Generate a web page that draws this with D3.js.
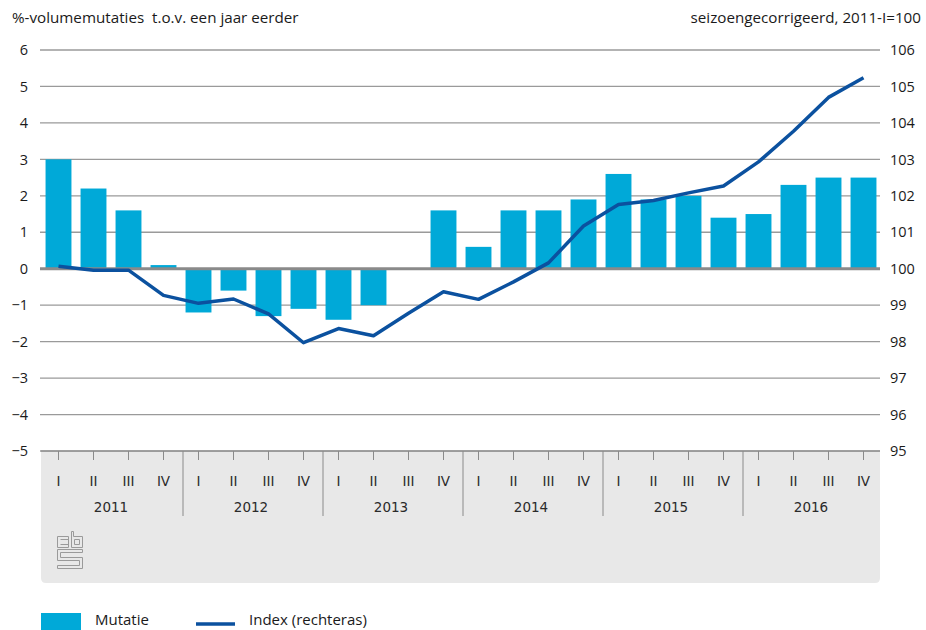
<!DOCTYPE html>
<html>
<head>
<meta charset="utf-8">
<script src="https://cdn.jsdelivr.net/npm/d3@7"></script>
<style>
  body { margin: 0; background: #fff; }
  svg text { font-family: "Open Sans", "Noto Sans", sans-serif; fill: #1a1a1a; }
  svg text.ax { font-family: "DejaVu Sans", sans-serif; fill: #2a2a2a; }
</style>
</head>
<body>
<div id="chart"></div>
<script>
var width = 926, height = 630;
var years = ["2011", "2012", "2013", "2014", "2015", "2016"];
var quarters = ["I", "II", "III", "IV"];
var mutatie = [3.0, 2.2, 1.6, 0.1, -1.2, -0.6, -1.3, -1.1, -1.4, -1.0, 0, 1.6,
               0.6, 1.6, 1.6, 1.9, 2.6, 1.9, 2.0, 1.4, 1.5, 2.3, 2.5, 2.5];
var index = [100.07, 99.96, 99.96, 99.27, 99.05, 99.17, 98.76, 97.97, 98.36, 98.16, 98.78, 99.37,
             99.16, 99.64, 100.16, 101.17, 101.76, 101.87, 102.08, 102.27, 102.93, 103.77, 104.70, 105.24];
var leftTicks = [6, 5, 4, 3, 2, 1, 0, -1, -2, -3, -4, -5];
var rightTicks = [106, 105, 104, 103, 102, 101, 100, 99, 98, 97, 96, 95];

var plot = { left: 40, right: 880, top: 50, bottom: 451 };

var keys = [];
years.forEach(function (y) { quarters.forEach(function (q) { keys.push(y + "-" + q); }); });

var x = d3.scaleBand().domain(keys).range([plot.left + 1, plot.right + 1]).paddingInner(0.26).paddingOuter(0.13);
var yL = d3.scaleLinear().domain([-5, 6]).range([plot.bottom, plot.top]);
var yR = d3.scaleLinear().domain([95, 106]).range([plot.bottom, plot.top]);

var svg = d3.select("#chart").append("svg").attr("width", width).attr("height", height);

// titles
svg.append("text").attr("x", 12).attr("y", 23).attr("font-size", 15.2)
    .style("white-space", "pre")
    .text("%-volumemutaties  t.o.v. een jaar eerder");
svg.append("text").attr("x", 921).attr("y", 23).attr("font-size", 15.2).attr("text-anchor", "end")
    .text("seizoengecorrigeerd, 2011-I=100");

// x axis panel
var panelTop = plot.bottom, panelBottom = 583;
svg.append("path")
    .attr("fill", "#e8e8e8")
    .attr("d", "M" + 41 + "," + panelTop + "H" + plot.right + "V" + (panelBottom - 5) +
        "Q" + plot.right + "," + panelBottom + " " + (plot.right - 5) + "," + panelBottom +
        "H" + 46 + "Q" + 41 + "," + panelBottom + " " + 41 + "," + (panelBottom - 5) + "Z");

// gridlines
svg.append("g").selectAll("line").data(leftTicks.filter(function (d) { return d !== 0; })).enter().append("line")
    .attr("x1", plot.left).attr("x2", plot.right)
    .attr("y1", function (d) { return yL(d); }).attr("y2", function (d) { return yL(d); })
    .attr("stroke", "#9a9a9a").attr("stroke-width", 1.3);

// left axis labels
var axL = svg.append("g").attr("transform", "translate(" + plot.left + ",0)")
    .call(d3.axisLeft(yL).tickValues(leftTicks).tickSize(0).tickPadding(12)
        .tickFormat(function (d) { return d < 0 ? "\u2212" + Math.abs(d) : d; }));
axL.select(".domain").remove();
axL.selectAll("text").attr("font-size", 14.5).attr("fill", "#1a1a1a");

// right axis labels
var axR = svg.append("g").attr("transform", "translate(" + plot.right + ",0)")
    .call(d3.axisRight(yR).tickValues(rightTicks).tickSize(0).tickPadding(10));
axR.select(".domain").remove();
axR.selectAll("text").attr("font-size", 14.5).attr("fill", "#1a1a1a");

// bars
svg.append("g").selectAll("rect").data(mutatie).enter().append("rect")
    .attr("x", function (d, i) { return x(keys[i]); })
    .attr("width", x.bandwidth())
    .attr("y", function (d) { return yL(Math.max(0, d)); })
    .attr("height", function (d) { return Math.abs(yL(d) - yL(0)); })
    .attr("fill", "#00a9d8");

// zero line
svg.append("line").attr("x1", plot.left).attr("x2", plot.right)
    .attr("y1", yL(0)).attr("y2", yL(0))
    .attr("stroke", "#8a8a8a").attr("stroke-width", 3);

// index line
var line = d3.line()
    .x(function (d, i) { return x(keys[i]) + x.bandwidth() / 2; })
    .y(function (d) { return yR(d); });
svg.append("path").datum(index)
    .attr("fill", "none").attr("stroke", "#0b519f").attr("stroke-width", 3.5)
    .attr("stroke-linejoin", "round")
    .attr("d", line);

// bottom axis line + ticks
svg.append("line").attr("x1", 41).attr("x2", plot.right)
    .attr("y1", plot.bottom).attr("y2", plot.bottom)
    .attr("stroke", "#8a8a8a").attr("stroke-width", 1);
svg.append("g").selectAll("line").data(keys).enter().append("line")
    .attr("x1", function (d) { return x(d) + x.bandwidth() / 2; })
    .attr("x2", function (d) { return x(d) + x.bandwidth() / 2; })
    .attr("y1", plot.bottom).attr("y2", plot.bottom + 9)
    .attr("stroke", "#8a8a8a").attr("stroke-width", 1);

// quarter labels
svg.append("g").selectAll("text").data(keys).enter().append("text")
    .attr("class", "ax")
    .attr("x", function (d) { return x(d) + x.bandwidth() / 2; })
    .attr("y", 486).attr("text-anchor", "middle").attr("font-size", 13.5)
    .text(function (d) { return d.split("-")[1]; });

// year separators and labels
svg.append("g").selectAll("line").data(years.slice(1)).enter().append("line")
    .attr("x1", function (d, i) { return x(d + "-I") - x.step() * 0.13 + 2; })
    .attr("x2", function (d, i) { return x(d + "-I") - x.step() * 0.13 + 2; })
    .attr("y1", plot.bottom).attr("y2", 516)
    .attr("stroke", "#8a8a8a").attr("stroke-width", 1);
svg.append("g").selectAll("text").data(years).enter().append("text")
    .attr("class", "ax")
    .attr("x", function (d) { return (x(d + "-II") + x(d + "-III") + x.bandwidth()) / 2; })
    .attr("y", 512).attr("text-anchor", "middle").attr("font-size", 13.5)
    .text(function (d) { return d; });

// cbs logo (outline)
var logo = svg.append("g").attr("transform", "translate(57.5,531.5)")
    .attr("fill", "none").attr("stroke", "#9a9a9a").attr("stroke-width", 1);
logo.append("path").attr("d", "M0,5H11V16H0Z M3,8H11 M3,13H11");
logo.append("path").attr("d", "M14,0H16V5H25V16H14Z M17,8H22V13H17Z");
logo.append("path").attr("d", "M0,18H25V21H3V26H25V37H0V34H22V29H0Z");

// legend
svg.append("rect").attr("x", 41).attr("y", 613).attr("width", 40).attr("height", 17).attr("fill", "#00a9d8");
svg.append("text").attr("x", 95).attr("y", 625).attr("font-size", 15).text("Mutatie");
svg.append("line").attr("x1", 196).attr("x2", 235).attr("y1", 624).attr("y2", 624)
    .attr("stroke", "#0b519f").attr("stroke-width", 3.5);
svg.append("text").attr("x", 249).attr("y", 625).attr("font-size", 15).text("Index (rechteras)");
</script>
</body>
</html>
